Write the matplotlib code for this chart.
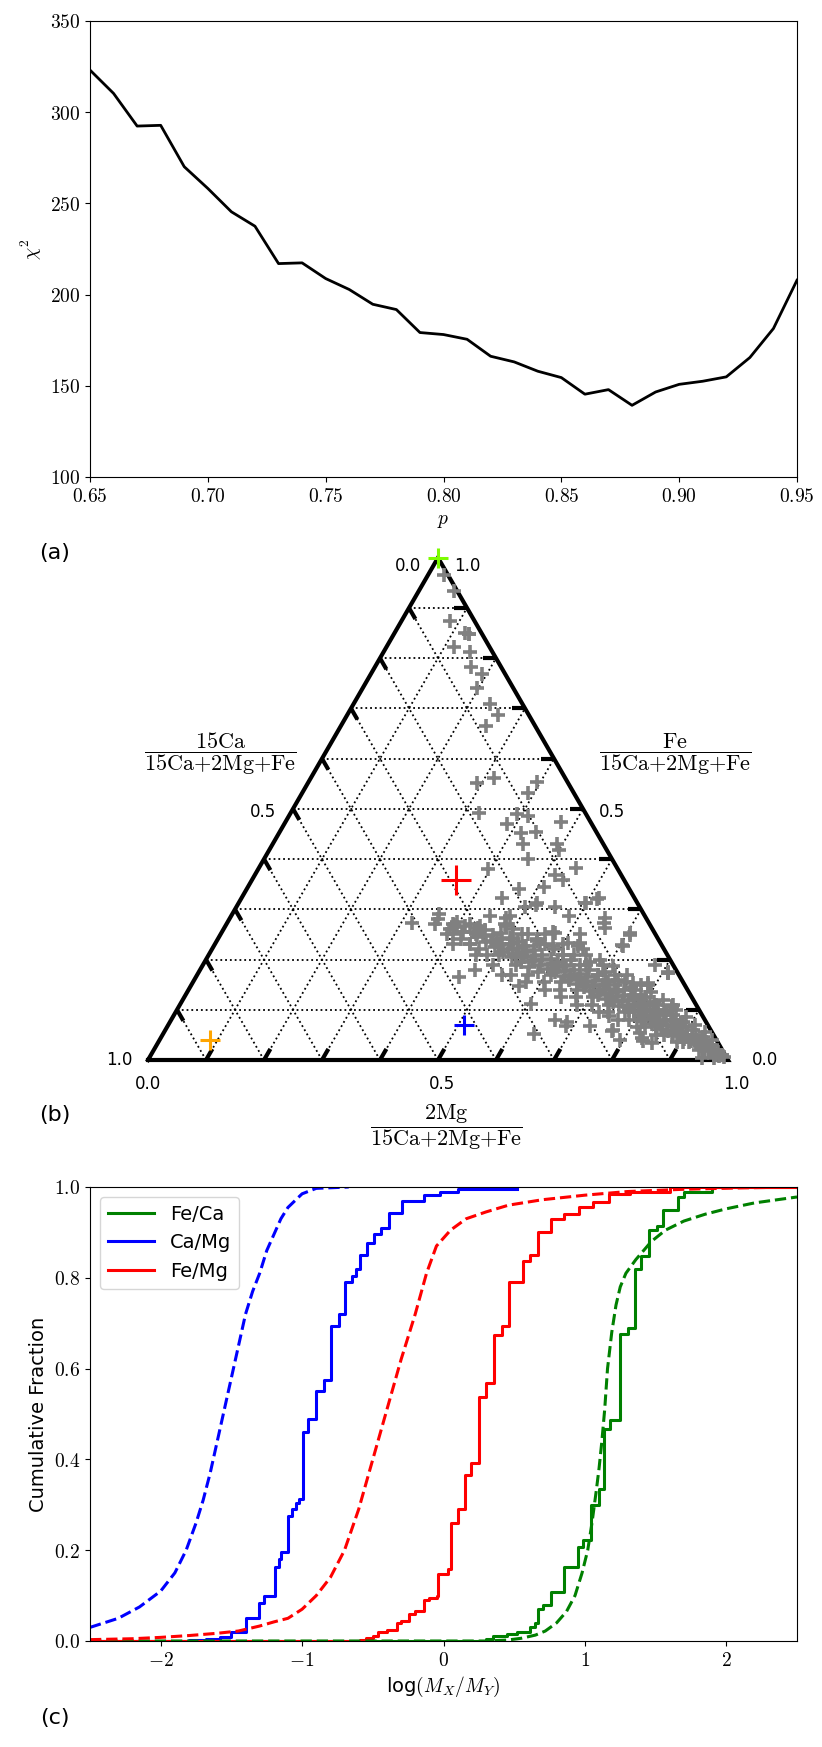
import numpy as np
import matplotlib
matplotlib.use('Agg')
import matplotlib.pyplot as plt

plt.rcParams['mathtext.fontset'] = 'cm'
plt.rcParams['font.family'] = 'DejaVu Sans'

# ---------------- (a) chi^2 against p ----------------
p_vals = [0.65, 0.66, 0.67, 0.68, 0.69, 0.70, 0.71, 0.72, 0.73, 0.74, 0.75,
          0.76, 0.77, 0.78, 0.79, 0.80, 0.81, 0.82, 0.83, 0.84, 0.85, 0.86,
          0.87, 0.88, 0.89, 0.90, 0.91, 0.92, 0.93, 0.94, 0.95]
chi2_vals = [323.1, 310.3, 292.4, 292.8, 270.1, 258.2, 245.4, 237.5, 217.0,
             217.4, 208.8, 202.8, 194.7, 191.8, 179.2, 178.1, 175.5, 166.2,
             163.1, 158.0, 154.5, 145.4, 147.9, 139.3, 146.6, 150.8, 152.5,
             154.9, 165.5, 181.4, 207.9]

# ---------------- (b) ternary: Fe and Ca fractions (Mg = rest) ----------------
gray_fe = [0.965, 0.933, 0.874, 0.851, 0.848, 0.822, 0.812, 0.783, 0.769, 0.740,
           0.708, 0.686, 0.665, 0.551, 0.562, 0.553, 0.532, 0.492, 0.489, 0.486,
           0.474, 0.469, 0.451, 0.454, 0.430, 0.430, 0.419, 0.401, 0.383, 0.380,
           0.369, 0.358, 0.340, 0.344, 0.322, 0.322, 0.304, 0.308, 0.304, 0.312,
           0.290, 0.272, 0.269, 0.254, 0.286, 0.283, 0.286, 0.283, 0.262, 0.248,
           0.229, 0.226, 0.190, 0.176, 0.165, 0.180, 0.169, 0.148, 0.112, 0.051,
           0.080, 0.076, 0.087, 0.054, 0.108, 0.040, 0.154, 0.154, 0.106, 0.174,
           0.060, 0.044, 0.034, 0.003, 0.003, 0.286, 0.250, 0.254, 0.266, 0.266,
           0.240, 0.226, 0.236, 0.226, 0.848,
           0.067, 0.067, 0.057, 0.037, 0.253, 0.227, 0.273, 0.320, 0.173, 0.150,
           0.110, 0.233, 0.253, 0.313, 0.313,
           # dense band
           0.005, 0.008, 0.010, 0.012, 0.015, 0.018, 0.020, 0.022, 0.025, 0.027,
           0.030, 0.032, 0.035, 0.037, 0.040, 0.042, 0.045, 0.047, 0.050, 0.052,
           0.055, 0.057, 0.060, 0.062, 0.065, 0.067, 0.070, 0.072, 0.075, 0.077,
           0.080, 0.082, 0.085, 0.087, 0.090, 0.092, 0.095, 0.097, 0.100, 0.102,
           0.105, 0.107, 0.110, 0.112, 0.115, 0.117, 0.120, 0.122, 0.125, 0.127,
           0.130, 0.132, 0.135, 0.137, 0.140, 0.142, 0.145, 0.147, 0.150, 0.152,
           0.155, 0.157, 0.160, 0.162, 0.165, 0.167, 0.170, 0.172, 0.175, 0.177,
           0.180, 0.182, 0.185, 0.187, 0.190, 0.192, 0.195, 0.197, 0.200, 0.202,
           0.205, 0.207, 0.210, 0.212, 0.215, 0.218, 0.220, 0.223, 0.226, 0.228,
           0.231, 0.234, 0.237, 0.240, 0.243, 0.246, 0.249, 0.252, 0.255, 0.258,
           0.262, 0.266, 0.270, 0.275,
           0.280, 0.270, 0.260, 0.250, 0.240, 0.230, 0.220, 0.210, 0.265, 0.255,
           0.245, 0.235, 0.225, 0.215, 0.205, 0.195, 0.185, 0.175,
           0.250, 0.240, 0.230, 0.260, 0.220, 0.210, 0.200, 0.190, 0.180, 0.170,
           0.160, 0.150, 0.140, 0.130, 0.120, 0.110, 0.100, 0.090, 0.080, 0.070,
           # band spread
           0.270, 0.270, 0.250, 0.250, 0.250, 0.250, 0.230, 0.230, 0.230, 0.230,
           0.230, 0.210, 0.210, 0.210, 0.210, 0.210, 0.190, 0.190, 0.190, 0.190,
           0.190, 0.170, 0.170, 0.170, 0.170, 0.170, 0.155, 0.155, 0.155, 0.155,
           0.155, 0.140, 0.140, 0.140, 0.140, 0.140, 0.125, 0.125, 0.125, 0.125,
           0.125, 0.110, 0.110, 0.110, 0.110, 0.110, 0.095, 0.095, 0.095, 0.095,
           0.095, 0.080, 0.080, 0.080, 0.080, 0.080, 0.065, 0.065, 0.065, 0.065,
           0.065, 0.050, 0.050, 0.050, 0.050, 0.050, 0.035, 0.035, 0.035, 0.035,
           0.035, 0.020, 0.020, 0.020, 0.020, 0.010, 0.010, 0.010,
           # upper (Mg-rich) side of the band
           0.233, 0.220, 0.200, 0.187, 0.170, 0.150, 0.135, 0.120, 0.100, 0.085,
           0.070, 0.055, 0.040, 0.210, 0.195, 0.175, 0.160, 0.145, 0.130, 0.115,
           0.100, 0.090, 0.075, 0.060, 0.045, 0.030,
           0.180, 0.165, 0.150, 0.135, 0.120, 0.105, 0.090, 0.200, 0.220, 0.240]
gray_ca = [0.007, 0.006, 0.042, 0.028, 0.023, 0.061, 0.038, 0.052, 0.039, 0.063,
           0.056, 0.054, 0.084, 0.158, 0.122, 0.052, 0.078, 0.183, 0.120, 0.101,
           0.051, 0.146, 0.132, 0.104, 0.138, 0.080, 0.082, 0.144, 0.070, 0.223,
           0.114, 0.105, 0.190, 0.145, 0.229, 0.061, 0.198, 0.177, 0.146, 0.089,
           0.354, 0.409, 0.338, 0.332, 0.267, 0.242, 0.131, 0.071, 0.081, 0.045,
           0.068, 0.146, 0.031, 0.015, 0.381, 0.346, 0.306, 0.286, 0.284, 0.309,
           0.258, 0.240, 0.162, 0.125, 0.043, 0.166, 0.087, 0.061, 0.044, 0.016,
           0.168, 0.126, 0.114, 0.043, 0.022, 0.233, 0.130, 0.175, 0.295, 0.249,
           0.279, 0.240, 0.212, 0.189, 0.023,
           0.245, 0.205, 0.172, 0.128, 0.042, 0.068, 0.078, 0.066, 0.017, 0.063,
           0.040, 0.138, 0.172, 0.173, 0.090,
           # dense band
           0.004, 0.012, 0.006, 0.018, 0.010, 0.024, 0.015, 0.030, 0.020, 0.035,
           0.025, 0.040, 0.030, 0.046, 0.036, 0.055, 0.040, 0.060, 0.048, 0.070,
           0.052, 0.075, 0.058, 0.085, 0.062, 0.090, 0.070, 0.095, 0.080, 0.060,
           0.092, 0.105, 0.085, 0.110, 0.098, 0.075, 0.115, 0.100, 0.120, 0.090,
           0.110, 0.135, 0.118, 0.100, 0.140, 0.125, 0.110, 0.150, 0.135, 0.115,
           0.160, 0.145, 0.125, 0.170, 0.150, 0.135, 0.175, 0.160, 0.140, 0.185,
           0.168, 0.150, 0.195, 0.178, 0.160, 0.200, 0.185, 0.170, 0.210, 0.192,
           0.175, 0.220, 0.200, 0.185, 0.230, 0.210, 0.195, 0.240, 0.220, 0.205,
           0.250, 0.230, 0.215, 0.260, 0.240, 0.225, 0.270, 0.250, 0.235, 0.280,
           0.260, 0.245, 0.290, 0.270, 0.255, 0.300, 0.280, 0.265, 0.310, 0.290,
           0.300, 0.320, 0.310, 0.330,
           0.360, 0.370, 0.350, 0.360, 0.340, 0.330, 0.320, 0.310, 0.335, 0.330,
           0.310, 0.300, 0.290, 0.280, 0.270, 0.260, 0.250, 0.240,
           0.220, 0.210, 0.200, 0.240, 0.190, 0.180, 0.170, 0.160, 0.150, 0.140,
           0.130, 0.120, 0.110, 0.100, 0.090, 0.080, 0.070, 0.065, 0.055, 0.050,
           # band spread
           0.250, 0.340, 0.190, 0.230, 0.310, 0.350, 0.170, 0.210, 0.280, 0.330,
           0.360, 0.140, 0.180, 0.250, 0.290, 0.330, 0.120, 0.150, 0.190, 0.270,
           0.310, 0.110, 0.140, 0.220, 0.260, 0.290, 0.100, 0.130, 0.210, 0.240,
           0.270, 0.090, 0.120, 0.190, 0.220, 0.245, 0.080, 0.100, 0.170, 0.200,
           0.225, 0.070, 0.090, 0.150, 0.180, 0.205, 0.060, 0.080, 0.130, 0.160,
           0.175, 0.050, 0.070, 0.110, 0.130, 0.150, 0.040, 0.055, 0.090, 0.110,
           0.125, 0.030, 0.045, 0.070, 0.085, 0.100, 0.020, 0.030, 0.050, 0.060,
           0.070, 0.012, 0.020, 0.030, 0.040, 0.006, 0.015, 0.020,
           # upper (Mg-rich) side of the band
           0.160, 0.140, 0.120, 0.105, 0.090, 0.075, 0.065, 0.052, 0.040, 0.030,
           0.022, 0.012, 0.008, 0.160, 0.140, 0.125, 0.110, 0.095, 0.085, 0.070,
           0.060, 0.050, 0.040, 0.030, 0.020, 0.012,
           0.210, 0.190, 0.170, 0.155, 0.140, 0.120, 0.105, 0.235, 0.260, 0.250]

# highlighted compositions (Fe, Ca)
special_pts = {
    'lawngreen': (1.000, 0.000),
    'red': (0.358, 0.290),
    'blue': (0.069, 0.420),
    'orange': (0.040, 0.873),
}
special_size = {'lawngreen': 15, 'red': 21, 'blue': 15, 'orange': 15}

# ---------------- (c) cumulative fractions ----------------
feca_x = [-2.5, 0.30, 0.347, 0.45, 0.517, 0.61, 0.648, 0.667, 0.704, 0.76,
          0.855, 0.949, 0.986, 1.042, 1.099, 1.136, 1.174, 1.249, 1.305, 1.354,
          1.399, 1.456, 1.512, 1.55, 1.655, 1.70, 1.90, 2.5]
feca_y = [0.0, 0.004, 0.01, 0.015, 0.02, 0.03, 0.04, 0.07, 0.08, 0.107,
          0.164, 0.208, 0.222, 0.30, 0.335, 0.466, 0.486, 0.676, 0.689, 0.82,
          0.847, 0.905, 0.915, 0.95, 0.978, 0.99, 1.0, 1.0]
camg_x = [-2.5, -1.92, -1.80, -1.68, -1.58, -1.505, -1.396, -1.305, -1.268,
          -1.193, -1.163, -1.148, -1.099, -1.069, -1.042, -1.024, -0.997,
          -0.956, -0.900, -0.847, -0.798, -0.742, -0.697, -0.648, -0.622,
          -0.592, -0.543, -0.494, -0.441, -0.385, -0.291, -0.141, -0.028,
          0.10, 0.517]
camg_y = [0.0, 0.001, 0.003, 0.005, 0.008, 0.02, 0.05, 0.083, 0.10, 0.164,
          0.18, 0.195, 0.276, 0.29, 0.305, 0.312, 0.46, 0.49, 0.55, 0.574,
          0.693, 0.72, 0.79, 0.803, 0.82, 0.85, 0.876, 0.896, 0.91, 0.942,
          0.97, 0.983, 0.988, 0.995, 0.995]
femg_x = [-2.5, -0.65, -0.592, -0.55, -0.50, -0.46, -0.40, -0.33, -0.30,
          -0.245, -0.20, -0.14, -0.10, -0.047, -0.036, 0.03, 0.055, 0.10,
          0.15, 0.197, 0.254, 0.30, 0.36, 0.415, 0.46, 0.565, 0.61, 0.667,
          0.76, 0.855, 0.956, 1.06, 1.17, 1.32, 1.60, 2.5]
femg_y = [0.0, 0.0, 0.003, 0.006, 0.012, 0.02, 0.025, 0.04, 0.045, 0.06,
          0.065, 0.09, 0.095, 0.10, 0.148, 0.159, 0.26, 0.29, 0.366, 0.393,
          0.537, 0.569, 0.673, 0.693, 0.79, 0.837, 0.85, 0.90, 0.93, 0.94,
          0.956, 0.966, 0.985, 0.99, 1.0, 1.0]

# model curves (dashed)
feca_mod_x = [-2.5, 0.30, 0.45, 0.55, 0.65, 0.72, 0.80, 0.87, 0.93, 0.98,
              1.02, 1.05, 1.08, 1.10, 1.12, 1.14, 1.16, 1.19, 1.22, 1.25,
              1.29, 1.36, 1.47, 1.57, 1.70, 1.85, 2.0, 2.2, 2.5]
feca_mod_y = [0.0, 0.0, 0.002, 0.006, 0.013, 0.022, 0.04, 0.065, 0.10, 0.15,
              0.20, 0.26, 0.33, 0.38, 0.44, 0.51, 0.60, 0.68, 0.74, 0.78,
              0.81, 0.84, 0.88, 0.905, 0.925, 0.94, 0.952, 0.965, 0.978]
camg_mod_x = [-2.5, -2.3, -2.15, -2.0, -1.9, -1.82, -1.75, -1.70, -1.65,
              -1.60, -1.55, -1.50, -1.45, -1.40, -1.35, -1.30, -1.25, -1.20,
              -1.15, -1.10, -1.0, -0.9, -0.67]
camg_mod_y = [0.03, 0.05, 0.075, 0.11, 0.15, 0.20, 0.26, 0.31, 0.37, 0.44,
              0.51, 0.58, 0.65, 0.72, 0.77, 0.81, 0.86, 0.895, 0.93, 0.955,
              0.985, 0.997, 1.0]
femg_mod_x = [-2.5, -2.2, -2.0, -1.8, -1.6, -1.45, -1.3, -1.2, -1.1, -1.0,
              -0.9, -0.8, -0.7, -0.6, -0.5, -0.4, -0.3, -0.2, -0.12, -0.05,
              0.05, 0.16, 0.3, 0.46, 0.7, 1.0, 1.3, 1.7, 2.1, 2.5]
femg_mod_y = [0.003, 0.005, 0.008, 0.012, 0.017, 0.022, 0.033, 0.042, 0.05,
              0.07, 0.10, 0.14, 0.20, 0.29, 0.40, 0.51, 0.62, 0.72, 0.81,
              0.87, 0.905, 0.93, 0.945, 0.96, 0.972, 0.982, 0.99, 0.995,
              0.998, 1.0]

W, H = 822, 1747
fig = plt.figure(figsize=(W / 100, H / 100), dpi=100)


def px_axes(left, top, right, bottom):
    return fig.add_axes([left / W, 1 - bottom / H, (right - left) / W,
                         (bottom - top) / H])


# ---- panel (a)
ax1 = px_axes(90, 21, 797, 477)
ax1.plot(p_vals, chi2_vals, color='black', lw=2)
ax1.set_xlim(0.65, 0.95)
ax1.set_ylim(100, 350)
xt = [0.65, 0.70, 0.75, 0.80, 0.85, 0.90, 0.95]
yt = [100, 150, 200, 250, 300, 350]
ax1.set_xticks(xt, [r'$%.2f$' % v for v in xt])
ax1.set_yticks(yt, [r'$%d$' % v for v in yt])
ax1.tick_params(labelsize=14)
ax1.set_xlabel(r'$p$', fontsize=14)
ax1.set_ylabel(r'$\chi^2$', fontsize=14)

# ---- panel (b) ternary
h = np.sqrt(3) / 2
ax2 = px_axes(148, 1060 - 580 * h, 728, 1060)
ax2.set_xlim(0, 1)
ax2.set_ylim(0, h)
ax2.axis('off')


def cart(fe, ca):
    fe = np.asarray(fe, dtype=float)
    ca = np.asarray(ca, dtype=float)
    mg = 1 - fe - ca
    return mg + fe / 2, fe * h


fr = np.arange(1, 10) / 10
for f in fr:
    ax2.plot([f / 2, 1 - f / 2], [f * h, f * h], ':', color='black', lw=1.3)
    ax2.plot([f, f + (1 - f) / 2], [0, (1 - f) * h], ':', color='black', lw=1.3)
    ax2.plot([1 - f, (1 - f) / 2], [0, (1 - f) * h], ':', color='black', lw=1.3)

L = 0.022
for f in fr:
    # right axis (Fe)
    ax2.plot([1 - f / 2, 1 - f / 2 - L], [f * h, f * h], color='black', lw=3,
             solid_capstyle='butt')
    # left axis (Ca)
    x0, y0 = (1 - f) / 2, (1 - f) * h
    ax2.plot([x0, x0 + 0.5 * L], [y0, y0 - h * L], color='black', lw=3,
             solid_capstyle='butt')
    # bottom axis (Mg)
    ax2.plot([f, f + 0.5 * L], [0, h * L], color='black', lw=3,
             solid_capstyle='butt')

ax2.plot([0, 1, 0.5, 0], [0, 0, h, 0], color='black', lw=3,
         solid_joinstyle='miter', clip_on=False, zorder=3)

gx, gy = cart(gray_fe, gray_ca)
ax2.plot(gx, gy, '+', color='gray', ms=10, mew=2.6, clip_on=False, zorder=4)
for col, (fe, ca) in special_pts.items():
    sx, sy = cart(fe, ca)
    ax2.plot(sx, sy, '+', color=col, ms=special_size[col], mew=2.2,
             clip_on=False, zorder=5)

tk = dict(fontsize=12, ha='center', va='center')
ax2.text(0.448, 0.852, '0.0', **tk)
ax2.text(0.550, 0.852, '1.0', **tk)
ax2.text(0.198, 0.428, '0.5', **tk)
ax2.text(0.800, 0.428, '0.5', **tk)
ax2.text(-0.050, 0.0, '1.0', **tk)
ax2.text(1.064, 0.0, '0.0', **tk)
ax2.text(0.0, -0.041, '0.0', **tk)
ax2.text(0.507, -0.041, '0.5', **tk)
ax2.text(1.014, -0.041, '1.0', **tk)

den = r'15\mathrm{Ca{+}2Mg{+}Fe}'
lab = dict(fontsize=16, ha='center', va='center')
ax2.text(0.124, 0.528, r'$\dfrac{15\mathrm{Ca}}{%s}$' % den, **lab)
ax2.text(0.909, 0.528, r'$\dfrac{\mathrm{Fe}}{%s}$' % den, **lab)
ax2.text(0.514, -0.116, r'$\dfrac{2\mathrm{Mg}}{%s}$' % den, **lab)

# ---- panel (c)
ax3 = px_axes(90, 1187, 797, 1641)
ax3.step(feca_x, feca_y, where='post', color='green', lw=2.2, label='Fe/Ca')
ax3.step(camg_x, camg_y, where='post', color='blue', lw=2.2, label='Ca/Mg')
ax3.step(femg_x, femg_y, where='post', color='red', lw=2.2, label='Fe/Mg')
ax3.plot(feca_mod_x, feca_mod_y, '--', color='green', lw=2.2)
ax3.plot(camg_mod_x, camg_mod_y, '--', color='blue', lw=2.2)
ax3.plot(femg_mod_x, femg_mod_y, '--', color='red', lw=2.2)
ax3.set_xlim(-2.5, 2.5)
ax3.set_ylim(0, 1)
xt3 = [-2, -1, 0, 1, 2]
yt3 = [0.0, 0.2, 0.4, 0.6, 0.8, 1.0]
ax3.set_xticks(xt3, [r'$%d$' % v for v in xt3])
ax3.set_yticks(yt3, [r'$%.1f$' % v for v in yt3])
ax3.tick_params(labelsize=14)
ax3.set_xlabel(r'log$(M_X/M_Y)$', fontsize=14)
ax3.set_ylabel('Cumulative Fraction', fontsize=14)
ax3.legend(loc='upper left', fontsize=14, handlelength=2.4)

fig.text(55 / W, 1 - 553 / H, '(a)', fontsize=16, ha='center', va='center')
fig.text(55 / W, 1 - 1115 / H, '(b)', fontsize=16, ha='center', va='center')
fig.text(55 / W, 1 - 1718 / H, '(c)', fontsize=16, ha='center', va='center')

fig.savefig('out.png', dpi=100)
